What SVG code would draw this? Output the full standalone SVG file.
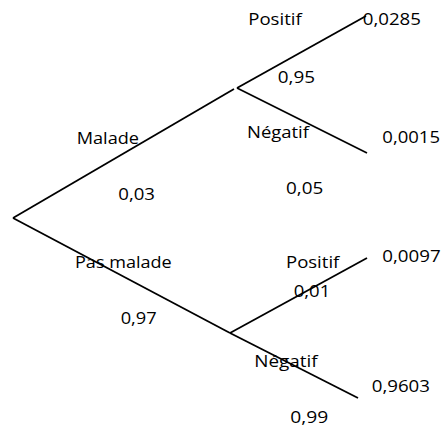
<svg xmlns="http://www.w3.org/2000/svg" width="442" height="430" viewBox="0 0 442 430">
<style>
text{font-family:"Open Sans","Noto Sans","Liberation Sans",sans-serif;font-size:16.5px;fill:#000;}
.c line{stroke:#000;stroke-width:1.8;stroke-linecap:butt;fill:none;}
</style>
<rect width="442" height="430" fill="#fff"/>
<g id="connectors" class="c">
<line x1="13" y1="218" x2="234" y2="89"/>
<line x1="13" y1="218" x2="230" y2="333"/>
<line x1="237" y1="88" x2="366" y2="16"/>
<line x1="237" y1="88" x2="367" y2="153"/>
<line x1="230" y1="333" x2="367" y2="258"/>
<line x1="230" y1="333" x2="358" y2="398"/>
</g>
<g id="malade">
<text x="76.7" y="144" textLength="62.3" lengthAdjust="spacingAndGlyphs">Malade</text>
<text x="118.3" y="200" textLength="36.7" lengthAdjust="spacingAndGlyphs">0,03</text>
</g>
<g id="pas-malade">
<text x="75" y="268.3" textLength="96.7" lengthAdjust="spacingAndGlyphs">Pas malade</text>
<text x="120.7" y="324" textLength="36" lengthAdjust="spacingAndGlyphs">0,97</text>
</g>
<g id="malade-positif">
<text x="248.3" y="25" textLength="53.4" lengthAdjust="spacingAndGlyphs">Positif</text>
<text x="277.7" y="83" textLength="37.3" lengthAdjust="spacingAndGlyphs">0,95</text>
<text x="362.7" y="25" textLength="58.3" lengthAdjust="spacingAndGlyphs">0,0285</text>
</g>
<g id="malade-negatif">
<text x="247" y="137.7" textLength="62" lengthAdjust="spacingAndGlyphs">Négatif</text>
<text x="286" y="194" textLength="37.3" lengthAdjust="spacingAndGlyphs">0,05</text>
<text x="382.3" y="143.3" textLength="57.7" lengthAdjust="spacingAndGlyphs">0,0015</text>
</g>
<g id="pas-malade-positif">
<text x="286" y="267.7" textLength="53.3" lengthAdjust="spacingAndGlyphs">Positif</text>
<text x="293.7" y="297.3" textLength="36.6" lengthAdjust="spacingAndGlyphs">0,01</text>
<text x="382.3" y="261.7" textLength="58.4" lengthAdjust="spacingAndGlyphs">0,0097</text>
</g>
<g id="pas-malade-negatif">
<text x="254.3" y="366.7" textLength="63.4" lengthAdjust="spacingAndGlyphs">Négatif</text>
<text x="290.3" y="423.3" textLength="38" lengthAdjust="spacingAndGlyphs">0,99</text>
<text x="371.7" y="392.3" textLength="58.3" lengthAdjust="spacingAndGlyphs">0,9603</text>
</g>
</svg>
